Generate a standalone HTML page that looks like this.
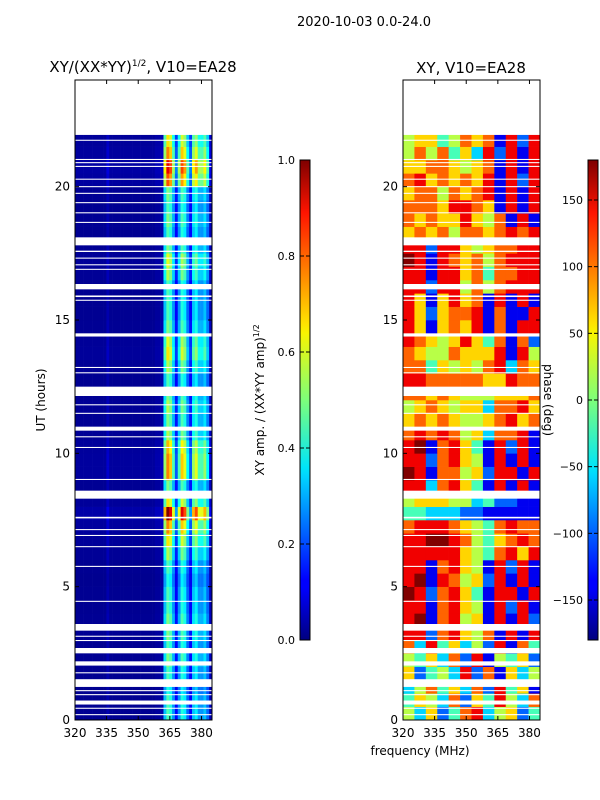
<!DOCTYPE html>
<html><head><meta charset="utf-8">
<style>
html,body{margin:0;padding:0;background:#fff;}
svg{display:block;font-family:"DejaVu Sans","Liberation Sans",sans-serif;}
</style></head>
<body>
<svg id="fig" width="600" height="800" viewBox="0 0 600 800" xmlns="http://www.w3.org/2000/svg">
<rect width="600" height="800" fill="#fff"/>
<text x="364" y="26" font-size="13" text-anchor="middle">2020-10-03 0.0-24.0</text>
<text x="143" y="72" font-size="15" text-anchor="middle">XY/(XX*YY)<tspan font-size="9" dy="-6">1/2</tspan><tspan dy="6">, V10=EA28</tspan></text>
<text x="471" y="73" font-size="15" text-anchor="middle">XY, V10=EA28</text>
<g id="left"></g>
<g id="right"></g>
<g id="axes"></g>
<text transform="translate(45,400) rotate(-90)" font-size="12" text-anchor="middle">UT (hours)</text>
<text x="420" y="755" font-size="12" text-anchor="middle">frequency (MHz)</text>
<text transform="translate(264,400) rotate(-90)" font-size="12" text-anchor="middle">XY amp. / (XX*YY amp)<tspan font-size="8" dy="-5">1/2</tspan></text>
<text transform="translate(544,400) rotate(90)" font-size="12" text-anchor="middle">phase (deg)</text>
<defs>
<linearGradient id="jet" x1="0" y1="1" x2="0" y2="0">
<stop offset="0" stop-color="#00007f"/><stop offset="0.11" stop-color="#0000ff"/><stop offset="0.125" stop-color="#0000ff"/>
<stop offset="0.34" stop-color="#00d4ff"/><stop offset="0.36" stop-color="#00e5f8"/><stop offset="0.5" stop-color="#7dff7a"/>
<stop offset="0.64" stop-color="#f8f500"/><stop offset="0.66" stop-color="#ffe200"/><stop offset="0.89" stop-color="#ff1400"/>
<stop offset="1" stop-color="#7f0000"/></linearGradient>
</defs>
<rect x="300" y="160" width="10" height="480" fill="url(#jet)" stroke="#000" stroke-width="1"/>
<rect x="588" y="160" width="10" height="480" fill="url(#jet)" stroke="#000" stroke-width="1"/>
<g id="cbticks"></g>
</svg>
<script>
// ---- data ----
const ampChannels = 48;                 // channels 320..385 MHz
const ampColProfile = [0.02,0.02,0.02,0.02,0.02,0.02,0.02,0.02,0.02,0.02,0.02,0.05,0.02,0.02,0.02,0.02,
  0.02,0.02,0.02,0.02,0.02,0.02,0.02,0.02,0.02,0.02,0.02,0.02,0.03,0.03,0.04,
  0.35,0.5,0.45,0.3,0.14,0.3,0.45,0.4,0.25,0.14,0.35,0.4,0.3,0.3,0.35,0.25,0.06];
const ampRowGain = [0.9,0.9,0.8,0.9,1,0.9, 1,1,0.9,0.9,0.8,0.9, 1.1,1.3,1.5,2.0,1.3,1.0,1.5,1.5,1.4,1.1,
  1.0,1.1,1.0,0.9,1.1,1.3,1.2,1.0,0.9,0.9,0.9,1.1,1.2,1.0,0.9,1.0,0.9,1.0,1.6,1.8,1.5,1.3];
const phaseRows = ["536247835624","465372648537","357463728461","624538271635","546372815462","738463528174",
 "882786571818","891785618182","881786518281","982786418818","891875628181","881786518281",
 "888886547868","889987546787","788876547877","443332211111","566655342211","883786418181",
 "981775628818","882786518181","891786418281","787875637781","676765567867","567656637786",
 "776765556667","887777766877","774656578376","765576668185","876568647172","861676817188",
 "862677817118","861686718181","882885757888","881886747788","981876757888","882886567788",
 "676757767878","767668657181","777688761818","677576781818","786767681828","667765671818",
 "575746382818","566457671828"];
const gaps = [[21.94,24],[21.72,21.76],[21.0,21.04],[20.88,20.92],[20.74,20.78],[20.26,20.3],[19.98,20.02],
 [19.73,19.77],[19.38,19.42],[19.0,19.04],[18.64,18.68],[17.8,18.1],[17.55,17.6],[17.3,17.34],[17.05,17.09],
 [16.88,16.92],[16.15,16.35],[15.86,15.92],[15.72,15.76],[14.38,14.5],[13.2,13.24],[13.0,13.04],[12.15,12.5],
 [11.8,11.84],[11.48,11.52],[10.92,10.96],[10.85,11.0],[10.6,10.64],[10.2,10.24],[9.0,9.04],[8.3,8.6],
 [7.56,7.62],[7.12,7.16],[6.9,6.94],[6.48,6.52],[5.74,5.78],[4.43,4.47],[3.35,3.6],[3.12,3.16],[2.96,3.0],
 [2.5,2.7],[2.04,2.2],[1.75,1.79],[1.24,1.53],[1.08,1.12],[0.93,0.97],[0.58,0.73],[0.42,0.46],[0.18,0.22]];
const xTicks = [320,335,350,365,380];
const yTicks = [0,5,10,15,20];
const ampTicks = ["0.0","0.2","0.4","0.6","0.8","1.0"];
const phaseTicks = [-150,-100,-50,0,50,100,150];

// ---- scales ----
const NS='http://www.w3.org/2000/svg';
const Y0=720, Y1=80, fMin=320, fMax=385;
const yS = h => Y0 - (h/24)*(Y0-Y1);
const xL = f => 75 + (f-fMin)/(fMax-fMin)*137;
const xR = f => 403 + (f-fMin)/(fMax-fMin)*137;
function jet(v){v=Math.max(0,Math.min(1,v));
 const c=x=>Math.round(255*Math.max(0,Math.min(1,x)));
 const r=c(1.5-Math.abs(4*v-3)), g=c(1.5-Math.abs(4*v-2)), b=c(1.5-Math.abs(4*v-1));
 return `rgb(${r},${g},${b})`;}
function mk(tag,attrs,parent){const e=document.createElementNS(NS,tag);for(const k in attrs)e.setAttribute(k,attrs[k]);parent.appendChild(e);return e;}

const L=document.getElementById('left'), R=document.getElementById('right');
const df=(fMax-fMin)/ampChannels;
ampRowGain.forEach((g,r)=>{
 const ya=yS((r+1)*0.5), yb=yS(r*0.5);
 ampColProfile.forEach((p,c)=>{
  const xa=xL(fMin+c*df), xb=xL(fMin+(c+1)*df);
  const e=mk('rect',{x:xa,y:ya,width:xb-xa+0.3,height:yb-ya+0.3,fill:jet(p*g)},L);
  
  
 });
});
const pdf=(fMax-fMin)/12;
phaseRows.forEach((row,r)=>{
 const ya=yS((r+1)*0.5), yb=yS(r*0.5);
 for(let c=0;c<row.length;c++){
  const deg=-180+parseInt(row[c])*40;
  const xa=xR(fMin+c*pdf), xb=xR(fMin+(c+1)*pdf);
  const e=mk('rect',{x:xa,y:ya,width:xb-xa+0.3,height:yb-ya+0.3,fill:jet((deg+180)/360)},R);
  
  
 }
});
gaps.forEach(g=>{
 [[L,75],[R,403]].forEach(([grp,x0])=>{
  const ya=yS(g[1]), yb=yS(g[0]);
  const e=mk('rect',{x:x0,y:ya,width:137,height:Math.max(1,yb-ya),fill:'#fff'},grp);
  
  
 });
});
const A=document.getElementById('axes');
[[75,xL],[403,xR]].forEach(([x0,xs],i)=>{
 const fr=mk('rect',{x:x0,y:80,width:137,height:640,fill:'none',stroke:'#000','stroke-width':1},A);
 
 
 xTicks.forEach(t=>{const x=xs(t);
  mk('line',{x1:x,y1:720,x2:x,y2:716,stroke:'#000'},A);mk('line',{x1:x,y1:80,x2:x,y2:84,stroke:'#000'},A);
  const tx=mk('text',{x:x,y:737,'font-size':12,'text-anchor':'middle'},A);tx.textContent=t;
  
  
 });
 yTicks.forEach(t=>{const y=yS(t);
  mk('line',{x1:x0,y1:y,x2:x0+4,y2:y,stroke:'#000'},A);mk('line',{x1:x0+137,y1:y,x2:x0+133,y2:y,stroke:'#000'},A);
  const tx=mk('text',{x:x0-5,y:y+4,'font-size':12,'text-anchor':'end'},A);tx.textContent=t;
  
  
 });
});
const CB=document.getElementById('cbticks');
ampTicks.forEach((t,i)=>{const y=640-parseFloat(t)*480;
 mk('line',{x1:300,y1:y,x2:304,y2:y,stroke:'#000'},CB);mk('line',{x1:310,y1:y,x2:306,y2:y,stroke:'#000'},CB);
 const tx=mk('text',{x:295,y:y+4,'font-size':11,'text-anchor':'end'},CB);tx.textContent=t;
 
 
});
phaseTicks.forEach(t=>{const y=400-t*480/360;
 mk('line',{x1:588,y1:y,x2:592,y2:y,stroke:'#000'},CB);mk('line',{x1:598,y1:y,x2:594,y2:y,stroke:'#000'},CB);
 const tx=mk('text',{x:583,y:y+4,'font-size':11,'text-anchor':'end'},CB);tx.textContent=String(t).replace('-','\u2212');
 
 
});
</script>
</body></html>
